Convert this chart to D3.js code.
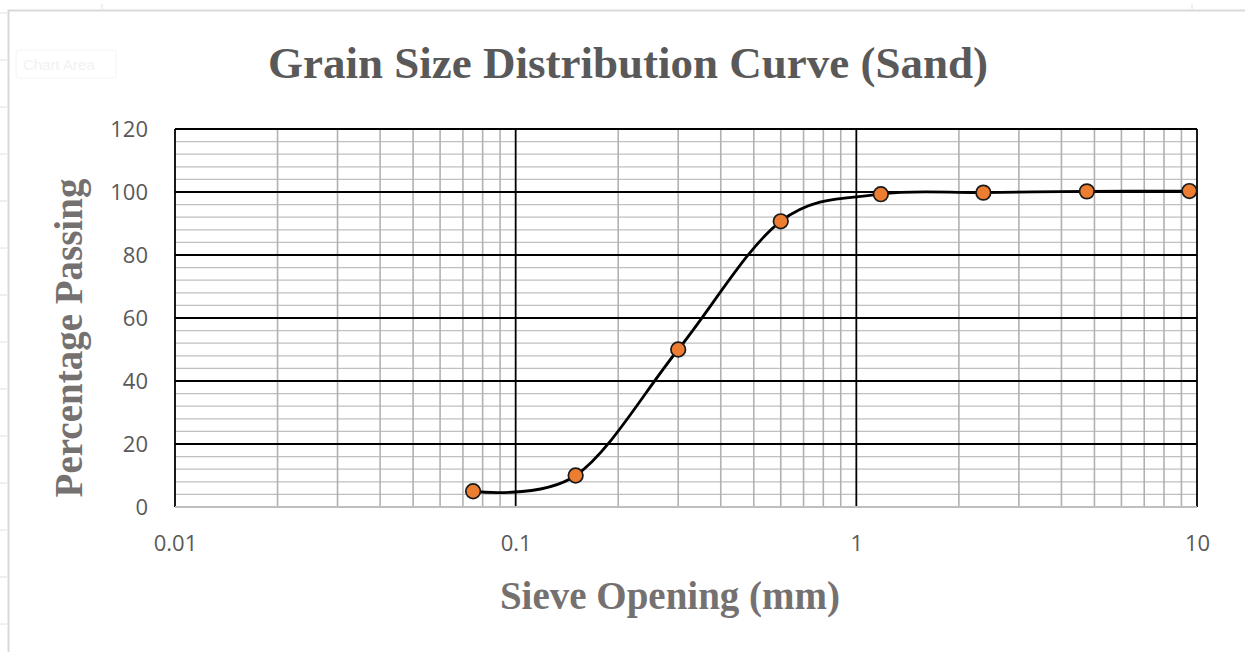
<!DOCTYPE html>
<html><head><meta charset="utf-8">
<script src="https://cdn.jsdelivr.net/npm/d3@7"></script>
<style>
html,body{margin:0;padding:0;background:#fff;}
svg{display:block;}
</style></head>
<body>
<svg id="chart" width="1245" height="652"></svg>
<script>
// ---- data ----
const sieveOpening = [0.075, 0.15, 0.3, 0.6, 1.18, 2.36, 4.75, 9.5];
const percentPassing = [5, 10, 50, 90.7, 99.3, 99.8, 100.2, 100.3];
const xTickValues = [0.01, 0.1, 1, 10];
const xTickLabels = ["0.01", "0.1", "1", "10"];
const yTickValues = [0, 20, 40, 60, 80, 100, 120];
const titleText = "Grain Size Distribution Curve (Sand)";
const xTitleText = "Sieve Opening (mm)";
const yTitleText = "Percentage Passing";

// ---- layout ----
const svg = d3.select("#chart");
const L = 175, R = 1197, T = 129, B = 507;

const x = d3.scaleLog().domain([0.01, 10]).range([L, R]);
const y = d3.scaleLinear().domain([0, 120]).range([B, T]);

// chart area frame (light)
svg.append("path").attr("d", `M8.5,652 V10.5 H1245`).attr("fill","none").attr("stroke","#d9d9d9").attr("stroke-width",2);
[13,60,107,154,201,248,295,342,389,436,483,530,577,624].forEach(v=>{
  svg.append("line").attr("x1",0).attr("x2",7).attr("y1",v).attr("y2",v).attr("stroke","#e0e0e0");
});
[102,1192].forEach(v=>svg.append("line").attr("x1",v).attr("x2",v).attr("y1",4).attr("y2",9).attr("stroke","#e0e0e0"));
svg.append("rect").attr("x",16).attr("y",50).attr("width",100).attr("height",28).attr("rx",3).attr("fill","#fff").attr("stroke","#f4f4f4");
svg.append("text").attr("x",23).attr("y",70).attr("font-family","Liberation Sans, Arial").attr("font-size",15).attr("fill","#f2f2f2").text("Chart Area");

const g = svg.append("g");

// minor horizontal gridlines
const yMinor = d3.range(0, 121, 4).filter(v => v % 20 !== 0);
g.selectAll(".hmin").data(yMinor).join("line")
  .attr("x1", L).attr("x2", R).attr("y1", d=>y(d)).attr("y2", d=>y(d))
  .attr("stroke", "#c0c0c0").attr("stroke-width", 1.2);

// minor vertical gridlines
const xMinor = [];
[0.01,0.1,1].forEach(dec => { for (let k=2;k<=9;k++) xMinor.push(dec*k); });
g.selectAll(".vmin").data(xMinor).join("line")
  .attr("x1", d=>x(d)).attr("x2", d=>x(d)).attr("y1", T).attr("y2", B)
  .attr("stroke", "#b4b0b0").attr("stroke-width", 1.6);

// major horizontal gridlines
g.selectAll(".hmaj").data(yTickValues.filter(v=>v>0)).join("line")
  .attr("x1", L).attr("x2", R).attr("y1", d=>y(d)).attr("y2", d=>y(d))
  .attr("stroke", "#000").attr("stroke-width", 1.8);

// major vertical gridlines
g.selectAll(".vmaj").data(xTickValues).join("line")
  .attr("x1", d=>x(d)).attr("x2", d=>x(d)).attr("y1", T).attr("y2", B)
  .attr("stroke", "#000").attr("stroke-width", 1.8);

// bottom axis line (gray)
g.append("line").attr("x1", L).attr("x2", R).attr("y1", B).attr("y2", B)
  .attr("stroke", "#bfbfbf").attr("stroke-width", 2);

// y axis (labels only)
const yAxis = d3.axisLeft(y).tickValues(yTickValues).tickSize(0).tickPadding(27);
const ya = svg.append("g").attr("transform", `translate(${L},0)`).call(yAxis);
ya.select(".domain").remove();
ya.selectAll("text").attr("font-family", "Open Sans, sans-serif").attr("font-size", 22).attr("fill", "#595959");

// x axis (labels only)
const xAxis = d3.axisBottom(x).tickValues(xTickValues).tickFormat((d,i)=>xTickLabels[i]).tickSize(0).tickPadding(28);
const xa = svg.append("g").attr("transform", `translate(0,${B})`).call(xAxis);
xa.select(".domain").remove();
xa.selectAll("text").attr("font-family", "Open Sans, sans-serif").attr("font-size", 22).attr("fill", "#595959");

// smooth curve
const pts = sieveOpening.map((s,i)=>[x(s), y(percentPassing[i])]);
g.append("path").attr("d", d3.line().curve(d3.curveCatmullRom.alpha(0))(pts))
  .attr("fill","none").attr("stroke","#000").attr("stroke-width",2.8);

// markers
g.selectAll(".pt").data(sieveOpening).join("circle")
  .attr("cx", d=>x(d)).attr("cy", (d,i)=>y(percentPassing[i])).attr("r", 7.3)
  .attr("fill", "#ED7D31").attr("stroke", "#1a1a1a").attr("stroke-width", 1.7);

// titles
svg.append("text").attr("x", 628).attr("y", 78).attr("text-anchor","middle")
  .attr("font-family","Liberation Serif, Times New Roman, serif").attr("font-weight","bold")
  .attr("font-size", 45).attr("fill","#595959").text(titleText);
svg.append("text").attr("x", 670).attr("y", 609).attr("text-anchor","middle")
  .attr("font-family","Liberation Serif, Times New Roman, serif").attr("font-weight","bold")
  .attr("font-size", 39).attr("fill","#767171").text(xTitleText);
svg.append("text").attr("transform","translate(82,338) rotate(-90)").attr("text-anchor","middle")
  .attr("font-family","Liberation Serif, Times New Roman, serif").attr("font-weight","bold")
  .attr("font-size", 39).attr("fill","#767171").text(yTitleText);
</script>
</body></html>
